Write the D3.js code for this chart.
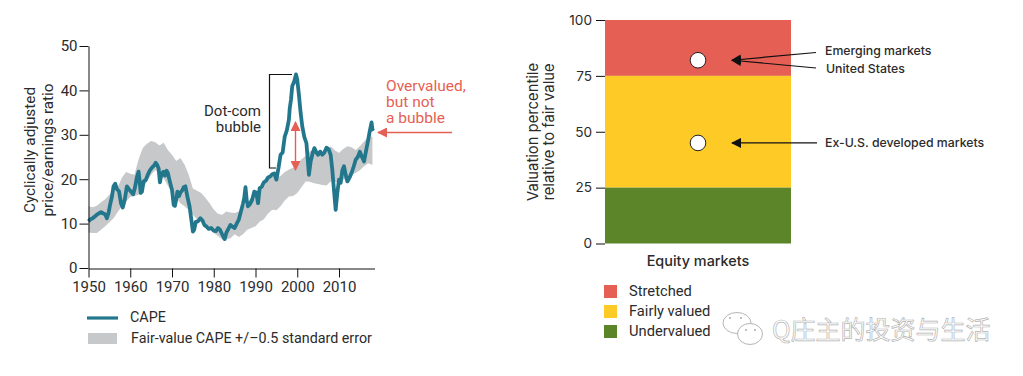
<!DOCTYPE html>
<html>
<head>
<meta charset="utf-8">
<script src="https://cdn.jsdelivr.net/npm/d3@7"></script>
<style>
html, body { margin: 0; padding: 0; background: #fff; overflow: hidden; }
text { font-family: Roboto, "Liberation Sans", sans-serif; fill: #2b2b2b; }
.inter text, text.inter { font-family: Inter, Roboto, sans-serif; }
</style>
</head>
<body>
<svg id="chart" width="1023" height="376"></svg>
<script>
// values
const capeYears = [1950,1950.5,1951,1951.5,1952,1952.5,1953,1953.5,1954,1954.4,1954.8,1955.2,1955.6,1956,1956.4,1956.8,1957.3,1957.8,1958.2,1958.7,1959.2,1959.7,1960,1960.7,1961.1,1961.6,1962,1962.2,1962.5,1962.8,1963.2,1963.7,1964.2,1964.7,1965.2,1965.7,1966.1,1966.4,1966.8,1967.1,1967.5,1968,1968.3,1968.7,1969,1969.4,1970,1970.4,1970.7,1971,1971.3,1971.7,1972,1972.4,1972.8,1973.2,1973.7,1974.2,1974.7,1975,1975.3,1975.7,1976.2,1976.8,1977.3,1977.8,1978.2,1978.8,1979.4,1980,1980.5,1981,1981.5,1982,1982.6,1983,1983.5,1984,1984.5,1985,1985.5,1986,1986.5,1987,1987.3,1987.6,1987.9,1988.2,1988.7,1989.2,1989.7,1990.2,1990.6,1991,1991.5,1992,1992.5,1993,1993.5,1994,1994.5,1995,1995.5,1996,1996.5,1997,1997.5,1998,1998.2,1998.5,1998.8,1999.2,1999.7,2000,2000.4,2000.8,2001.2,2001.7,2002.2,2002.8,2003.2,2003.7,2004.1,2004.6,2005,2005.5,2006,2006.5,2007,2007.5,2008,2008.4,2008.8,2009.2,2009.6,2010,2010.4,2010.8,2011.2,2011.6,2012,2012.5,2013,2013.5,2014,2014.5,2015,2015.5,2016,2016.5,2017,2017.4,2017.8,2018,2018.2];
const capeValues = [10.5,11,11.2,11.6,12,12.3,12.6,12.3,12.1,11.2,12.4,14.4,16,18.4,19,17.8,17.3,14.5,13.6,15.5,18.4,17.7,17.4,16.6,18,20.5,21.7,20,16.9,17.2,19.5,19.8,21,22,22.6,23.1,23.7,23.3,22.4,19.3,21.2,21.7,20.8,21.9,21.4,19.8,17.6,14.2,14,15.4,17.2,16.2,17,17.4,18.2,18.4,16,13.9,10.4,8.2,8.6,10.4,10.5,11.2,10.7,9.6,9.4,8.8,9,8.4,8.3,9,8.6,7.6,6.5,7.9,8.8,9.7,9.3,9,10,10.9,12.7,14.5,15.8,18.2,15.2,13.9,14.4,15.4,17.2,17,14.6,18,18.3,19.3,19.6,20.4,20.6,21.1,21.3,19.9,22.5,25.5,26,29.6,31,33.4,36,37.9,41,41.8,43.6,42.4,39,35,31.9,29.5,28.1,21,24,25.9,27,26,25.5,26.2,25.5,26,27.1,26.8,25.5,22,17.5,13.1,17,19.9,19.2,22,22.9,21,19.5,20.3,21.4,22.8,24.4,25,26.2,25,24,26.5,28.9,31,32.8,31.2,31.5];

const bandYears = d3.range(1950,2019);
const bandUpper = [13.9,13.7,14,14.8,15.5,16.5,17.5,18.2,20.3,21.6,21.2,21,24.5,27,28,28.6,28.3,27.6,28.2,26.6,25.5,24.1,24.8,23.3,21,17.9,17.4,16.9,15.8,14.6,13.2,12.2,12,12.7,12.5,12.4,12.7,13.8,14.6,15.8,16.5,17.8,18.5,19.8,20.8,20.4,20.7,21.6,22.2,22.6,23.2,24.5,25.2,26.3,26.7,25.8,25.6,26,27.4,26.5,25.9,26.8,27.4,27.2,26.6,27.4,28.5,29.5,29.6];
const bandLower = [8,7.9,7.9,8.6,9.4,10.3,11.2,12.6,13.9,15,16,16.2,16.5,18,19.5,21,22.1,21,20.2,18.5,16.9,15.8,14.6,13.9,13.1,12,10.9,10.4,9.7,8.8,7.9,7.2,6.4,6.4,6.7,7.6,7,7.6,8.6,9,9.4,10.4,11,12.3,13.1,13,13.9,15.2,16.1,16.2,16.9,18.2,19.5,19.4,19.1,18.9,18.7,18.6,19.5,19.4,19.2,19.9,20.2,21,21.4,22,22.9,23.6,23.2];

const xTicks = [1950,1960,1970,1980,1990,2000,2010];
const yTicksLeft = [0,10,20,30,40,50];

const zoneNames = ["Stretched","Fairly valued","Undervalued"];
const zoneTop = [100,75,25];
const zoneBottom = [75,25,0];
const zoneColors = ["#e65f55","#fdca26","#5c8529"];
const yTicksRight = [0,25,50,75,100];

const marketPercentile = [82,45];

const svg = d3.select("#chart");

// ---------- left panel
const x = d3.scaleLinear().domain([1950,2018.5]).range([88.5,374.5]);
const y = d3.scaleLinear().domain([0,50]).range([268,46]);
const left = svg.append("g");

const band = d3.area()
	.x(function(d,i){ return x(bandYears[i]); })
	.y0(function(d,i){ return y(bandLower[i]); })
	.y1(function(d,i){ return y(bandUpper[i]); });
left.append("path").attr("d", band(bandYears)).attr("fill","#c7c8ca");

const capeLine = d3.line()
	.x(function(d,i){ return x(capeYears[i]); })
	.y(function(d){ return y(d); });
left.append("path").attr("d", capeLine(capeValues))
	.attr("fill","none").attr("stroke","#23778d").attr("stroke-width",3.8).attr("stroke-linejoin","round");

const xAxis = left.append("g").attr("transform","translate(0,268.5)")
	.call(d3.axisBottom(x).tickValues(xTicks).tickFormat(d3.format("d")).tickSize(9).tickSizeOuter(0));
const yAxis = left.append("g").attr("transform","translate(88.5,0)")
	.call(d3.axisLeft(y).tickValues(yTicksLeft).tickSize(9).tickSizeOuter(0));
[xAxis,yAxis].forEach(function(a){
	a.selectAll("path,line").attr("stroke","#111");
	a.selectAll("text").style("font-size","15px").style("font-family","Roboto").attr("fill","#2b2b2b");
});
xAxis.selectAll("text").attr("y",13);
yAxis.selectAll("text").attr("x",-11);

function axisTitle(g, cx, cy, lines, size, gap){
	g.append("text").attr("transform","translate("+cx+","+cy+") rotate(-90)")
		.attr("text-anchor","middle").style("font-size",size+"px")
		.selectAll("tspan").data(lines).enter().append("tspan")
		.attr("x",0).attr("dy",function(d,i){ return i ? gap : 0; }).text(function(d){ return d; });
}
axisTitle(left,35,150,["Cyclically adjusted","price/earnings ratio"],15.3,17.5);

// dot-com bracket
left.append("path").attr("fill","none").attr("stroke","#111").attr("stroke-width",1.2)
	.attr("d","M292,74.5H269.5V168H276");
left.append("text").attr("text-anchor","end").attr("x",261).attr("y",116).style("font-size",15).text("Dot-com");
left.append("text").attr("text-anchor","end").attr("x",261).attr("y",132).style("font-size",15).text("bubble");

// red double arrow between the peak zone and fair value
svg.append("defs").selectAll("marker").data([["redHead","#e65f55"],["blackHead","#111"]]).enter().append("marker")
	.attr("id",function(d){ return d[0]; }).attr("viewBox","0 0 10 10").attr("refX",9).attr("refY",5)
	.attr("markerUnits","userSpaceOnUse").attr("markerWidth",10).attr("markerHeight",10).attr("orient","auto-start-reverse")
	.append("path").attr("d","M0,0L10,5L0,10Z").attr("fill",function(d){ return d[1]; });
left.append("line").attr("x1",295.5).attr("x2",295.5).attr("y1",122).attr("y2",170)
	.attr("stroke","#e65f55").attr("stroke-width",1.4)
	.attr("marker-start","url(#redHead)").attr("marker-end","url(#redHead)");

// overvalued note
left.append("line").attr("x1",452).attr("x2",378).attr("y1",132.5).attr("y2",132.5)
	.attr("stroke","#e65f55").attr("stroke-width",1.3).attr("marker-end","url(#redHead)");
["Overvalued,","but not","a bubble"].forEach(function(t,i){
	left.append("text").attr("x",386).attr("y",91+i*16).style("font-size",15.5).style("fill","#e65f55").text(t);
});

// legend
left.append("line").attr("x1",87).attr("x2",118).attr("y1",318).attr("y2",318).attr("stroke","#23778d").attr("stroke-width",3.2);
left.append("rect").attr("x",88).attr("y",333).attr("width",29).attr("height",11).attr("fill","#c7c8ca");
left.append("text").attr("x",130).attr("y",322).style("font-size",14.3).text("CAPE");
left.append("text").attr("x",131).attr("y",343).style("font-size",14.3).text("Fair-value CAPE +/\u20130.5 standard error");

// ---------- right panel
const yR = d3.scaleLinear().domain([0,100]).range([243.5,20]);
const right = svg.append("g").attr("class","inter");
const xBand = d3.scaleBand().domain(["Equity markets"]).range([605,791]);

right.selectAll(".zone").data(zoneNames).enter().append("rect").attr("class","zone")
	.attr("x",xBand("Equity markets")).attr("width",xBand.bandwidth())
	.attr("y",function(d,i){ return yR(zoneTop[i]); })
	.attr("height",function(d,i){ return yR(zoneBottom[i]) - yR(zoneTop[i]); })
	.attr("fill",function(d,i){ return zoneColors[i]; });

const yAxisR = right.append("g").attr("transform","translate(605,0)")
	.call(d3.axisLeft(yR).tickValues(yTicksRight).tickSize(9).tickSizeOuter(0));
yAxisR.select(".domain").remove();
yAxisR.selectAll("line").attr("stroke","#111");
yAxisR.selectAll("text").attr("x",-13).style("font-size","13.6px").style("font-family","Inter").attr("fill","#2b2b2b");

axisTitle(right,538,132,["Valuation percentile","relative to fair value"],14.8,16);

const dotX = xBand("Equity markets") + xBand.bandwidth()/2;
right.selectAll(".dot").data(marketPercentile).enter().append("circle").attr("class","dot")
	.attr("cx",dotX).attr("cy",function(d){ return yR(d); }).attr("r",7.8)
	.attr("fill","#fff").attr("stroke","#222").attr("stroke-width",1);

function pointer(fromX, fromY, pct){
	right.append("line").attr("x1",fromX).attr("y1",fromY).attr("x2",732).attr("y2",yR(pct))
		.attr("stroke","#111").attr("stroke-width",1.2).attr("marker-end","url(#blackHead)");
}
pointer(816,52.5,marketPercentile[0]);
pointer(816,68,marketPercentile[0]);
pointer(817,yR(marketPercentile[1]),marketPercentile[1]);

const markets = ["Emerging markets","United States","Ex-U.S. developed markets"];
const marketLabelX = [825,826,825];
const marketLabelY = [55,73,147];
right.selectAll(".market").data(markets).enter().append("text").attr("class","market")
	.attr("x",function(d,i){ return marketLabelX[i]; }).attr("y",function(d,i){ return marketLabelY[i]; })
	.style("font-size","12.3px").style("font-weight",500).text(function(d){ return d; });

right.append("text").attr("x",dotX).attr("y",266).attr("text-anchor","middle")
	.style("font-size","14.4px").style("font-weight",500).text("Equity markets");

right.selectAll(".swatch").data(zoneNames).enter().append("rect").attr("class","swatch")
	.attr("x",604).attr("y",function(d,i){ return 285 + i*20; }).attr("width",13).attr("height",13)
	.attr("fill",function(d,i){ return zoneColors[i]; });
right.selectAll(".swatchLabel").data(zoneNames).enter().append("text").attr("class","swatchLabel")
	.attr("x",629).attr("y",function(d,i){ return 296 + i*20; })
	.style("font-size","14.7px").style("font-family","Roboto").text(function(d){ return d; });

// watermark, embossed look
const mark = svg.append("g");
mark.append("text").attr("x",772).attr("y",339)
	.style("font-family","'Noto Sans CJK SC'").style("font-size","25px")
	.style("fill","#fff").style("stroke","#b5b5b5").style("stroke-width",0.7)
	.text("Q\u5e84\u4e3b\u7684\u6295\u8d44\u4e0e\u751f\u6d3b");
const bubbleCx = [737,750];
const bubbleCy = [323,334];
const bubbleRx = [14,12.5];
const bubbleRy = [10.5,10.5];
mark.selectAll(".bubble").data(bubbleCx).enter().append("ellipse").attr("class","bubble")
	.attr("cx",function(d){ return d; }).attr("cy",function(d,i){ return bubbleCy[i]; })
	.attr("rx",function(d,i){ return bubbleRx[i]; }).attr("ry",function(d,i){ return bubbleRy[i]; })
	.attr("fill","#fff").attr("stroke","#b5b5b5").attr("stroke-width",1);
const eyeX = [730,741,746,755];
const eyeY = [318,318,330,330];
mark.selectAll(".eye").data(eyeX).enter().append("circle").attr("class","eye")
	.attr("cx",function(d){ return d; }).attr("cy",function(d,i){ return eyeY[i]; }).attr("r",1)
	.attr("fill","#aaa");
</script>
</body>
</html>
